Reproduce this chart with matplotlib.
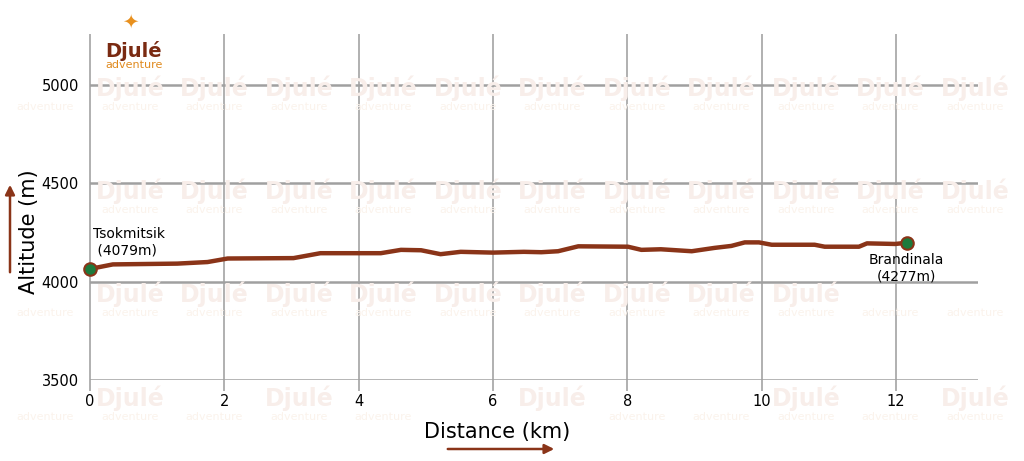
import matplotlib.pyplot as plt
from matplotlib.patches import FancyArrowPatch

# elevation profile
dist_km = [0.0, 0.34, 1.3, 1.75, 2.05, 3.03, 3.43, 4.33, 4.63, 4.93, 5.22, 5.52,
           6.0, 6.46, 6.72, 6.97, 7.27, 8.01, 8.21, 8.5, 8.96, 9.3, 9.55, 9.75,
           9.96, 10.15, 10.79, 10.94, 11.45, 11.57, 11.99, 12.16]
alt_m = [4065, 4088, 4092, 4100, 4118, 4120, 4145, 4145, 4162, 4160, 4140, 4152,
         4148, 4152, 4150, 4155, 4180, 4178, 4162, 4165, 4155, 4172, 4182, 4200,
         4200, 4188, 4188, 4178, 4178, 4195, 4192, 4198]

start_name = "Tsokmitsik\n (4079m)"
end_name = "Brandinala\n(4277m)"

x_ticks = [0, 2, 4, 6, 8, 10, 12]
y_ticks = [3500, 4000, 4500, 5000]

brown = "#8a3418"
green = "#1c7a3c"

fig = plt.figure(figsize=(10.24, 4.61), dpi=100)
ax = fig.add_axes([0.0879, 0.1757, 0.867, 0.748])
ax.set_xlim(0, 13.22)
ax.set_ylim(3500, 5254)
ax.patch.set_alpha(0)
for s in ax.spines.values():
    s.set_visible(False)

for xv in x_ticks:
    ax.axvline(xv, ymin=-0.03, ymax=1, color="#b0b0b0", lw=1.4, clip_on=False, zorder=1)
for yv in y_ticks:
    ax.axhline(yv, color="#a0a0a0", lw=1.8, zorder=1)

ax.plot(dist_km, alt_m, color=brown, lw=3.2, solid_capstyle="round", zorder=3)
ax.plot([dist_km[0], dist_km[-1]], [alt_m[0], alt_m[-1]], "o", ms=9,
        mfc=green, mec=brown, mew=1.5, clip_on=False, zorder=4)

labels = []
labels.append(ax.text(0.05, 4200, start_name, fontsize=10, ha="left", va="center"))
labels.append(ax.text(dist_km[-1], 4070, end_name, fontsize=10, ha="center", va="center"))

ax.set_xticks(x_ticks)
ax.set_yticks(y_ticks)
ax.tick_params(length=0, labelsize=10.5, pad=10)
ax.tick_params(axis="y", pad=8)

labels.append(fig.text(29 / 1024, 1 - 232 / 461, "Altitude (m)", rotation=90,
                       fontsize=15, ha="center", va="center"))
labels.append(fig.text(497 / 1024, 1 - 432 / 461, "Distance (km)", fontsize=15,
                       ha="center", va="center"))

# arrows beside axis titles
fig.patches.append(FancyArrowPatch(
    (10 / 1024, 1 - 275 / 461), (10 / 1024, 1 - 182 / 461), transform=fig.transFigure,
    arrowstyle="-|>", mutation_scale=14, color=brown, lw=1.8))
fig.patches.append(FancyArrowPatch(
    (445 / 1024, 1 - 449 / 461), (557 / 1024, 1 - 449 / 461), transform=fig.transFigure,
    arrowstyle="-|>", mutation_scale=14, color=brown, lw=1.8))

# logo
labels.append(fig.text(134 / 1024, 1 - 51 / 461, "Djulé", color="#7a2a12", fontsize=14,
                       fontweight="bold", ha="center", va="center"))
labels.append(fig.text(134 / 1024, 1 - 65 / 461, "adventure", color="#e08a1e",
                       fontsize=8, ha="center", va="center"))
fig.text(130 / 1024, 1 - 22 / 461, "✦", color="#e8901e", fontsize=14,
         ha="center", va="center")

# faint watermark, left out where it would sit on a real label
fig.canvas.draw()
r = fig.canvas.get_renderer()
boxes = [t.get_window_extent(r) for t in labels]
boxes += [t.get_window_extent(r) for t in ax.get_xticklabels() + ax.get_yticklabels()]
for wx in [45, 130, 214, 299, 383, 468, 552, 637, 721, 806, 890, 975]:
    for wy in [88, 191, 294, 398]:
        for txt, dy, size, col, w in [("Djulé", 0, 17, "#f8eeea", "bold"),
                                      ("adventure", 19, 8, "#fbf3ec", "normal")]:
            t = fig.text(wx / 1024, 1 - (wy + dy) / 461, txt, color=col, fontsize=size,
                         fontweight=w, ha="center", va="center", zorder=0)
            bb = t.get_window_extent(r)
            if any(bb.overlaps(b) for b in boxes):
                t.remove()

fig.savefig("out.png", dpi=100)
